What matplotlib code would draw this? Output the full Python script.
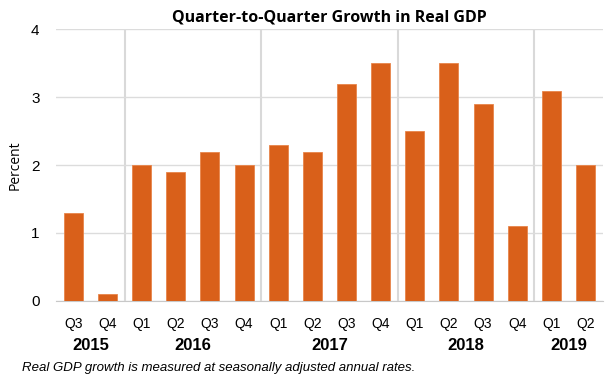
import matplotlib.pyplot as plt

# Datos
quarters = ['Q3', 'Q4', 'Q1', 'Q2', 'Q3', 'Q4', 'Q1', 'Q2', 'Q3', 'Q4',
            'Q1', 'Q2', 'Q3', 'Q4', 'Q1', 'Q2']
growth = [1.3, 0.1, 2.0, 1.9, 2.2, 2.0, 2.3, 2.2, 3.2, 3.5,
          2.5, 3.5, 2.9, 1.1, 3.1, 2.0]
years = ['2015', '2016', '2017', '2018', '2019']
quarters_per_year = [2, 4, 4, 4, 2]

bar_color = '#D9601A'

fig = plt.figure(figsize=(6.05, 3.83), dpi=100)
ax = fig.add_axes([0.093, 0.215, 0.903, 0.708])

x = list(range(len(growth)))
ax.bar(x, growth, width=0.56, color=bar_color, edgecolor='#E8854A', linewidth=0.6, zorder=3)

ax.set_xlim(-0.5, len(growth) - 0.5)
ax.set_ylim(0, 4)
ax.set_yticks([0, 1, 2, 3, 4])
ax.yaxis.grid(True, color='#dcdcdc', linewidth=1.0, zorder=0)
ax.set_xticks(x)
ax.set_xticklabels(quarters, family='Liberation Sans', fontsize=10)
ax.tick_params(axis='x', length=0, pad=12)
ax.tick_params(axis='y', length=0, pad=12, labelsize=11)
for lab in ax.get_yticklabels():
    lab.set_family('Liberation Sans')

for side in ['top', 'right', 'left']:
    ax.spines[side].set_visible(False)
ax.spines['bottom'].set_color('#c8c8c8')

# Separadores entre años y etiquetas de año
start = 0
for yr, n in zip(years, quarters_per_year):
    end = start + n
    if end < len(growth):
        ax.axvline(end - 0.5, color='#d9d9d9', linewidth=1.5, zorder=1)
    ax.text((start + end - 1) / 2, -0.66, yr,
            ha='center', va='center', fontsize=12, fontweight='bold', family='Liberation Sans')
    start = end

ax.set_ylabel('Percent', family='Open Sans', fontsize=10, labelpad=6)
ax.set_title('Quarter-to-Quarter Growth in Real GDP', fontsize=11.5, fontweight='bold',
             family='Open Sans', pad=6)

fig.text(0.036, 0.038, 'Real GDP growth is measured at seasonally adjusted annual rates.',
         fontsize=9.5, style='italic', family='Liberation Sans', va='center')

fig.savefig('out.png', dpi=100)
